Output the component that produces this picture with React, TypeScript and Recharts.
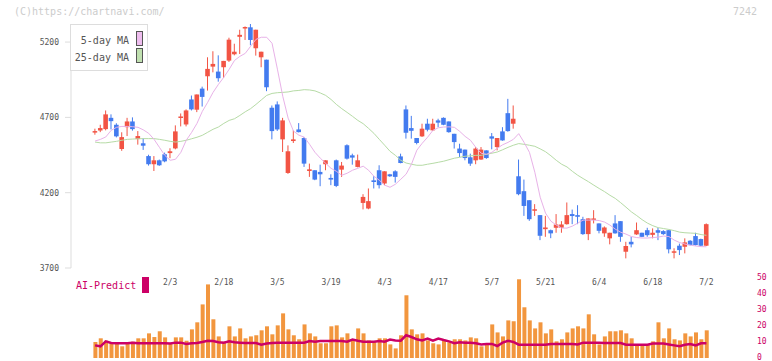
import React from "react";
import { ComposedChart, Bar, Line, XAxis, YAxis } from "recharts";

// tick labels along the lower panel (every 10 trading days)
const dateLabels = ["2/3", "2/18", "3/5", "3/19", "4/3", "4/17", "5/7", "5/21", "6/4", "6/18", "7/2"];
const dateIdx = [14, 24, 34, 44, 54, 64, 74, 84, 94, 104, 114];

const openP = [
  4605, 4613, 4622, 4697, 4651, 4490, 4635, 4673, 4556, 4528,
  4443, 4389, 4415, 4455, 4463, 4494, 4697, 4653, 4819, 4751,
  4891, 4973, 5037, 5004, 5033, 5077, 5119, 5235, 5295, 5298,
  5159, 5099, 5083, 4764, 4786, 4554, 4331, 4543, 4620, 4563,
  4344, 4349, 4338, 4389, 4298, 4415, 4353, 4515, 4448, 4371,
  4132, 4095, 4282, 4349, 4261, 4322, 4342, 4441, 4753, 4629,
  4563, 4574, 4658, 4614, 4680, 4697, 4673, 4591, 4493, 4486,
  4435, 4415, 4420, 4481, 4574, 4503, 4607, 4728, 4658, 4309,
  4210, 4150, 4085, 4051, 3958, 3951, 3967, 3967, 3991, 4058,
  4051, 4024, 3925, 4020, 3996, 3930, 3897, 3996, 4011, 3808,
  3874, 3923, 3934, 3951, 3920, 3951, 3945, 3951, 3801, 3848,
  3841, 3881, 3912, 3892, 3848,
];
const highP = [
  4625, 4651, 4746, 4720, 4661, 4601, 4697, 4700, 4609, 4561,
  4452, 4443, 4420, 4466, 4495, 4647, 4726, 4753, 4845, 4852,
  4904, 5099, 5139, 5112, 5075, 5229, 5189, 5282, 5304, 5320,
  5282, 5136, 5083, 4779, 4806, 4697, 4514, 4614, 4662, 4570,
  4393, 4349, 4386, 4415, 4322, 4420, 4404, 4521, 4459, 4453,
  4190, 4228, 4309, 4382, 4342, 4325, 4349, 4459, 4779, 4710,
  4563, 4658, 4691, 4691, 4691, 4700, 4673, 4591, 4525, 4486,
  4459, 4503, 4503, 4481, 4596, 4563, 4635, 4823, 4779, 4420,
  4287, 4150, 4124, 4051, 4046, 3955, 4058, 4011, 4135, 4088,
  4117, 4040, 4029, 4084, 3996, 3976, 3934, 4051, 4011, 3874,
  3907, 4002, 3934, 3967, 3963, 3967, 3951, 3951, 3831, 3862,
  3897, 3885, 3934, 3895, 3996,
];
const lowP = [
  4585, 4602, 4614, 4620, 4567, 4478, 4576, 4612, 4519, 4484,
  4380, 4344, 4378, 4402, 4429, 4488, 4640, 4640, 4746, 4735,
  4772, 4878, 4999, 4937, 4962, 5068, 5112, 5121, 5214, 5179,
  5110, 5033, 4874, 4554, 4610, 4470, 4325, 4530, 4600, 4371,
  4305, 4283, 4243, 4349, 4250, 4237, 4305, 4420, 4386, 4368,
  4089, 4090, 4228, 4228, 4250, 4305, 4267, 4395, 4559, 4559,
  4521, 4570, 4607, 4610, 4635, 4648, 4598, 4493, 4437, 4415,
  4378, 4389, 4418, 4425, 4488, 4481, 4545, 4605, 4625, 4183,
  4046, 4013, 4046, 3885, 3907, 3898, 3934, 3934, 3988, 3991,
  3991, 3920, 3885, 3996, 3930, 3907, 3857, 3928, 3874, 3764,
  3837, 3920, 3905, 3907, 3897, 3885, 3920, 3797, 3764, 3786,
  3797, 3850, 3850, 3846, 3846,
];
const closeP = [
  4609, 4629, 4720, 4675, 4574, 4569, 4673, 4622, 4576, 4512,
  4389, 4415, 4382, 4408, 4475, 4607, 4706, 4746, 4753, 4852,
  4836, 5022, 5055, 4960, 5075, 5216, 5136, 5248, 5300, 5214,
  5282, 5136, 4900, 4609, 4620, 4680, 4475, 4554, 4602, 4393,
  4355, 4287, 4322, 4415, 4287, 4245, 4380, 4426, 4433, 4415,
  4172, 4144, 4271, 4250, 4342, 4309, 4305, 4397, 4598, 4611,
  4530, 4625, 4618, 4658, 4665, 4651, 4602, 4536, 4463, 4430,
  4393, 4493, 4486, 4430, 4559, 4563, 4547, 4609, 4691, 4190,
  4112, 4024, 4090, 3914, 3969, 3930, 3989, 3989, 4051, 4045,
  4040, 3925, 4029, 4029, 3947, 3969, 3934, 3930, 3907, 3846,
  3857, 3951, 3907, 3918, 3934, 3934, 3925, 3824, 3811, 3819,
  3870, 3852, 3852, 3848, 3991,
];
const ma5 = [
  4543, 4554, 4570, 4614, 4634, 4640, 4640, 4638, 4634, 4617,
  4594, 4554, 4501, 4448, 4415, 4422, 4468, 4548, 4600, 4660,
  4740, 4800, 4866, 4919, 4966, 5019, 5078, 5105, 5125, 5172,
  5218, 5232, 5232, 5192, 5020, 4840, 4695, 4609, 4582, 4569,
  4521, 4468, 4429, 4395, 4362, 4342, 4316, 4329, 4349, 4362,
  4376, 4349, 4309, 4283, 4250, 4236, 4256, 4289, 4323, 4389,
  4482, 4528, 4568, 4614, 4631, 4636, 4637, 4634, 4607, 4574,
  4548, 4501, 4462, 4455, 4468, 4495, 4518, 4534, 4554, 4592,
  4534, 4468, 4336, 4170, 4064, 4011, 3985, 3965, 3965, 3978,
  3998, 4018, 4018, 4018, 4015, 4005, 3985, 3958, 3938, 3925,
  3909, 3902, 3899, 3899, 3902, 3905, 3912, 3909, 3885, 3869,
  3859, 3852, 3846, 3842, 3841,
];
const ma25 = [
  4536, 4531, 4531, 4536, 4541, 4548, 4554, 4556, 4558, 4559,
  4559, 4559, 4554, 4548, 4541, 4536, 4541, 4548, 4558, 4568,
  4581, 4601, 4621, 4636, 4660, 4680, 4691, 4713, 4737, 4758,
  4786, 4816, 4846, 4859, 4864, 4866, 4869, 4876, 4879, 4884,
  4882, 4876, 4862, 4846, 4819, 4786, 4758, 4733, 4707, 4680,
  4658, 4627, 4594, 4554, 4515, 4475, 4448, 4415, 4397, 4389,
  4382, 4382, 4389, 4395, 4402, 4409, 4419, 4429, 4435, 4442,
  4445, 4448, 4448, 4455, 4462, 4470, 4485, 4501, 4515, 4526,
  4521, 4515, 4508, 4491, 4472, 4445, 4415, 4389, 4371, 4342,
  4316, 4294, 4273, 4250, 4228, 4207, 4183, 4162, 4134, 4104,
  4073, 4048, 4021, 3998, 3981, 3968, 3962, 3956, 3948, 3938,
  3934, 3932, 3930, 3922, 3917,
];
const volume = [
  10, 12.3, 10.8, 9.2, 9.2, 7.3, 9.2, 10.2, 12.3, 12.3,
  15.4, 13.1, 16.7, 12.9, 9.2, 12.9, 12.9, 10.8, 17.9, 22.3,
  33.5, 46, 24.2, 13.5, 10.2, 19.8, 13.5, 18.5, 12.3, 13.5,
  14.2, 17.3, 19.8, 14.8, 20.4, 27.9, 17.9, 14.2, 11.7, 21,
  15.4, 13.5, 9.2, 9.2, 19.8, 20.4, 12.9, 15.4, 11, 18.5,
  15.4, 11, 10.4, 12.3, 12.3, 8.5, 6, 14.2, 39.2, 17.9,
  14.8, 15.4, 11, 9.2, 8.5, 11, 9.8, 11.7, 11.7, 11,
  12.9, 12.3, 7.3, 8.5, 21, 16, 13.5, 23.5, 22.9, 49.2,
  31.7, 23.5, 18.5, 22.3, 15.4, 17.9, 10.4, 11.7, 16, 18.5,
  19.8, 18.5, 27.3, 14.8, 8.5, 13.5, 16.7, 16.7, 17.3, 15.4,
  12.3, 8.5, 8.5, 8.5, 10.4, 22.3, 12.3, 18.5, 11.7, 11,
  15.4, 13.5, 16, 11.7, 17.3,
];
const aiPredict = [
  7.9, 7.3, 10.4, 9.4, 9.2, 9.2, 9.2, 9.6, 9.2, 9.2,
  9.2, 9.2, 9.2, 9.2, 9, 9.6, 9.6, 8.8, 9.2, 9.4,
  10, 10.8, 10.6, 9.8, 9.6, 10.4, 9.8, 9.6, 9.4, 9.4,
  9.4, 8.3, 9, 9.4, 9.6, 9.6, 9.6, 9.6, 9.6, 9.6,
  10.6, 10.2, 10.6, 10.6, 10.6, 10.6, 10.6, 10.2, 11.5, 10.8,
  10.2, 10.2, 10.2, 10.6, 10.2, 11.5, 11, 10.8, 14.2, 13.1,
  11.7, 11, 12.1, 10.8, 12.1, 11.2, 10.4, 9.2, 9.8, 9.6,
  9.6, 9.2, 8.5, 8.8, 8.8, 7.5, 9.6, 10.8, 10, 8.3,
  8.3, 8.3, 8.3, 8.3, 8.3, 8.8, 8.8, 8.8, 8.8, 8.8,
  8.5, 9.6, 9.6, 9.6, 9.6, 9.4, 9.4, 9.4, 9.4, 8.3,
  8.3, 8.3, 8.3, 8.3, 9, 9, 9, 8.5, 7.9, 7.3,
  8.3, 8.8, 7.9, 9.2, 9.2,
];

const priceTicks = [3700, 4200, 4700, 5200];
const volTicks = [0, 10, 20, 30, 40, 50];
const gridTicks = [0, 1, 2, 3, 4, 5, 6, 7, 8, 9, 10, 11];

const rows = closeP.map((c, i) => ({
  i,
  open: openP[i],
  high: highP[i],
  low: lowP[i],
  close: c,
  ma5: ma5[i],
  ma25: ma25[i],
  volume: volume[i],
  ai: aiPredict[i],
}));

const UP = "#f25444";
const DOWN = "#437bef";
const MONO = "'DejaVu Sans Mono', monospace";
const PAD = { left: 21.4, right: 42.9 };

function Candle(props: any) {
  const { x, y, width, height, payload } = props;
  const { open, high, low, close } = payload;
  const top = Math.min(y, y + height);
  const h = Math.abs(height);
  const k = high > low ? h / (high - low) : 0;
  const py = (p: number) => top + (high - p) * k;
  const cx = x + width / 2;
  const color = close >= open ? UP : DOWN;
  const b1 = py(Math.max(open, close));
  const b2 = py(Math.min(open, close));
  return (
    <g>
      <line x1={cx} x2={cx} y1={top} y2={top + h} stroke={color} strokeWidth={1} />
      <rect x={cx - 2.3} y={b1} width={4.6} height={Math.max(1.5, b2 - b1)} fill={color} />
    </g>
  );
}

function GridTick(props: any) {
  const { x, y } = props;
  return <line x1={x} x2={x} y1={y - 3} y2={y + 5} stroke="#ddd" />;
}

function DateTick(props: any) {
  const { x, payload } = props;
  const label = dateLabels[dateIdx.indexOf(payload.value)];
  // lower panel plot starts 8px below its top; labels sit just beneath
  return (
    <text x={x} y={15} textAnchor="middle" fontSize={8} fontFamily={MONO} fill="#555">
      {label}
    </text>
  );
}

function VolTick(props: any) {
  const { x, y, payload } = props;
  return (
    <text x={x} y={y + 1.5} textAnchor="start" fontSize={8} fontFamily={MONO} fill="#cc0066">
      {payload.value}
    </text>
  );
}

export default function App() {
  return (
    <div style={{ position: "absolute", left: 0, top: 0, width: 772, height: 361, background: "#fff" }}>
      <div style={{ position: "absolute", left: 0, top: 0 }}>
        <ComposedChart width={772} height={280} data={rows} margin={{ top: 24, right: 20, bottom: 0, left: 0 }}>
          <XAxis xAxisId="cat" dataKey="i" type="category" hide padding={PAD} />
          <XAxis
            xAxisId="grid"
            type="number"
            domain={[0, 11]}
            ticks={gridTicks}
            interval={0}
            height={12}
            axisLine={{ stroke: "#ddd" }}
            tickLine={false}
            tickSize={0}
            tickMargin={0}
            tick={GridTick}
          />
          <YAxis
            domain={[3700, 5320]}
            allowDataOverflow
            ticks={priceTicks}
            interval={0}
            width={71}
            axisLine={{ stroke: "#ddd" }}
            tickLine={{ stroke: "#ddd" }}
            tickSize={6}
            tickMargin={6}
            tick={{ fill: "#555", fontSize: 8, fontFamily: MONO }}
          />
          <Line xAxisId="cat" dataKey="ma25" stroke="#b6dba6" strokeWidth={1} dot={false} isAnimationActive={false} />
          <Line xAxisId="cat" dataKey="ma5" stroke="#e8b2e8" strokeWidth={1} dot={false} isAnimationActive={false} />
          <Bar
            xAxisId="cat"
            dataKey={(d: any) => [d.low, d.high]}
            barSize={5}
            shape={Candle}
            isAnimationActive={false}
          />
        </ComposedChart>
      </div>
      <div style={{ position: "absolute", left: 0, top: 270 }}>
        <ComposedChart width={772} height={91} data={rows} margin={{ top: 0, right: 0, bottom: 3, left: 71 }}>
          <XAxis
            dataKey="i"
            type="category"
            orientation="top"
            padding={PAD}
            height={8}
            axisLine={false}
            tickLine={false}
            tickSize={0}
            tickMargin={0}
            ticks={dateIdx}
            interval={0}
            tick={DateTick}
          />
          <YAxis
            orientation="right"
            domain={[0, 50]}
            ticks={volTicks}
            interval={0}
            width={20}
            axisLine={false}
            tickLine={false}
            tickSize={0}
            tickMargin={5}
            tick={VolTick}
          />
          <Bar dataKey="volume" fill="#f2963e" barSize={4} isAnimationActive={false} />
          <Line dataKey="ai" stroke="#cc0066" strokeWidth={2.5} dot={false} isAnimationActive={false} />
        </ComposedChart>
      </div>
      <svg width={772} height={361} style={{ position: "absolute", left: 0, top: 0, pointerEvents: "none" }}>
        <text x={14} y={15} fontSize={10} fontFamily={MONO} fill="#ccc">(C)https://chartnavi.com/</text>
        <text x={757} y={15} fontSize={10} fontFamily={MONO} fill="#ccc" textAnchor="end">7242</text>
        <rect x={70.5} y={24.5} width={77} height={46} fill="#fff" stroke="#ddd" />
        <text x={129} y={44} fontSize={10} fontFamily={MONO} fill="#555" textAnchor="end">5-day MA</text>
        <rect x={136.5} y={31.5} width={6} height={14} fill="#eebdee" stroke="#555" />
        <text x={129} y={61} fontSize={10} fontFamily={MONO} fill="#555" textAnchor="end">25-day MA</text>
        <rect x={136.5} y={48.5} width={6} height={14} fill="#c0e0b0" stroke="#555" />
        <text x={76} y={289} fontSize={10} fontFamily={MONO} fill="#cc0066">AI-Predict</text>
        <rect x={142} y={277} width={7} height={16} fill="#cc0066" />
      </svg>
    </div>
  );
}
